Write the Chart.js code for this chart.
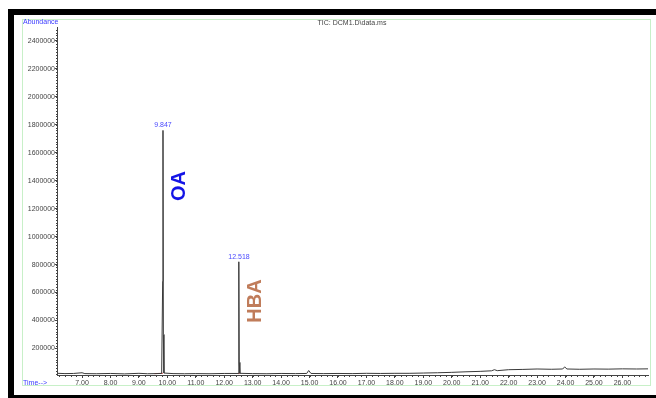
<!DOCTYPE html>
<html>
<head>
  <script src="https://cdn.jsdelivr.net/npm/chart.js"></script>
  <style>
    body { margin: 0; background: #fff; }
    canvas { display: block; }
  </style>
</head>
<body>
  <canvas id="ticCanvas" width="656" height="398"></canvas>

  <script>
    // retention time (min) and abundance
    var times = [6.15, 6.4, 6.7, 7.0, 7.1, 7.5, 8.0, 8.5, 9.0, 9.3, 9.6, 9.8, 9.835, 9.847, 9.86, 9.88,
      10.2, 10.6, 11.0, 11.5, 12.0, 12.49, 12.508, 12.518, 12.528, 12.55, 13.0, 13.5, 14.0, 14.5,
      14.9, 14.97, 15.05, 15.5, 16.0, 16.5, 17.0, 17.5, 18.0, 18.5, 19.0, 19.5, 20.0, 20.5, 21.0,
      21.4, 21.5, 21.6, 22.0, 22.5, 23.0, 23.5, 23.9, 23.97, 24.05, 24.5, 25.0, 25.5, 26.0, 26.5, 26.9];
    var abundance = [22000, 20000, 21000, 26000, 20000, 19000, 21000, 18000, 22000, 19000, 20000, 21000, 680000, 1760000, 300000, 24000,
      20000, 19000, 20000, 19000, 21000, 21000, 120000, 820000, 100000, 22000, 20000, 19000, 21000, 20000,
      21000, 42000, 21000, 20000, 21000, 20000, 22000, 21000, 22000, 22000, 24000, 26000, 29000, 33000, 36000,
      40000, 48000, 41000, 48000, 50000, 53000, 51000, 53000, 68000, 53000, 51000, 53000, 52000, 54000, 53000, 54000];

    // small red integration marks under the two peaks
    var intTimes = [9.55, 9.84, null, 12.49, 12.54];
    var intValues = [20000, 22000, null, 20000, 20000];

    var peakTimes = [9.847, 12.518];
    var peakValues = [1760000, 820000];
    var peakLabels = ['9.847', '12.518'];

    var xTicks = [7, 8, 9, 10, 11, 12, 13, 14, 15, 16, 17, 18, 19, 20, 21, 22, 23, 24, 25, 26];
    var yTicks = [200000, 400000, 600000, 800000, 1000000, 1200000, 1400000, 1600000, 1800000, 2000000, 2200000, 2400000];

    var FONT = 'Liberation Sans, Arial, sans-serif';

    var points = times.map(function (t, i) { return { x: t, y: abundance[i] }; });
    var intPoints = intTimes.map(function (t, i) { return t === null ? { x: null, y: null } : { x: t, y: intValues[i] }; });

    var decor = {
      id: 'decor',
      beforeDraw: function (chart) {
        var c = chart.ctx;
        c.save();
        c.fillStyle = '#fff';
        c.fillRect(0, 0, chart.width, chart.height);
        // black frame pieces
        c.fillStyle = '#000';
        c.fillRect(8, 9, 648, 6);
        c.fillRect(8, 9, 6, 389);
        c.fillRect(8, 395, 648, 3);
        // light green border
        c.strokeStyle = '#c8f0c8';
        c.lineWidth = 1;
        c.strokeRect(22.5, 19.5, 628, 366);
        c.restore();
      },
      afterDraw: function (chart) {
        var c = chart.ctx;
        var xs = chart.scales.x, ys = chart.scales.y;
        var area = chart.chartArea;
        c.save();
        // minor ticks
        c.strokeStyle = '#444';
        c.lineWidth = 1;
        c.beginPath();
        for (var t = 6.2; t < 26.95; t += 0.2) {
          var px = Math.round(xs.getPixelForValue(t)) + 0.5;
          c.moveTo(px, area.bottom);
          c.lineTo(px, area.bottom + 2);
        }
        for (var v = 20000; v < 2500000; v += 20000) {
          var py = Math.round(ys.getPixelForValue(v)) + 0.5;
          c.moveTo(area.left - 1, py);
          c.lineTo(area.left, py);
        }
        c.stroke();

        c.font = '7px ' + FONT;
        c.textBaseline = 'middle';
        c.fillStyle = '#3a3aff';
        c.textAlign = 'left';
        c.fillText('Abundance', 23, 22);
        c.fillText('Time-->', 23, 383);
        c.fillStyle = '#444';
        c.textAlign = 'center';
        c.fillText('TIC: DCM1.D\\data.ms', 352, 23);

        // peak retention time labels
        c.fillStyle = '#4a4aff';
        for (var i = 0; i < peakTimes.length; i++) {
          c.fillText(peakLabels[i], xs.getPixelForValue(peakTimes[i]), ys.getPixelForValue(peakValues[i]) - 5);
        }

        // compound names, rotated
        c.font = 'bold 20px ' + FONT;
        c.translate(178, 186);
        c.rotate(-Math.PI / 2);
        c.fillStyle = '#1414e6';
        c.fillText('OA', 0, 1);
        c.rotate(Math.PI / 2);
        c.translate(254 - 178, 301 - 186);
        c.rotate(-Math.PI / 2);
        c.fillStyle = '#c07c5a';
        c.fillText('HBA', 0, 1);
        c.restore();
      }
    };

    new Chart(document.getElementById('ticCanvas'), {
      type: 'line',
      data: {
        datasets: [{
          data: points,
          borderColor: '#3a3a3a',
          borderWidth: 1,
          pointRadius: 0,
          tension: 0
        }, {
          data: intPoints,
          borderColor: '#e03030',
          borderWidth: 1,
          pointRadius: 0,
          spanGaps: false
        }]
      },
      options: {
        responsive: false,
        animation: false,
        layout: { padding: { top: 27, right: 8, left: 0, bottom: 0 } },
        plugins: { legend: { display: false }, tooltip: { enabled: false } },
        scales: {
          x: {
            type: 'linear',
            min: 6.12,
            max: 26.9,
            afterBuildTicks: function (s) { s.ticks = xTicks.map(function (v) { return { value: v }; }); },
            afterFit: function (s) { s.height = 23; },
            grid: { display: true, drawOnChartArea: false, drawTicks: true, tickLength: 3, color: '#444' },
            border: { display: true, color: '#444' },
            ticks: {
              padding: 1, maxRotation: 0, autoSkip: false, color: '#444',
              font: { family: FONT, size: 7 },
              callback: function (v) { return v.toFixed(2); }
            }
          },
          y: {
            min: 10000,
            max: 2500000,
            afterBuildTicks: function (s) { s.ticks = yTicks.map(function (v) { return { value: v }; }); },
            afterFit: function (s) { s.width = 57; },
            grid: { display: true, drawOnChartArea: false, drawTicks: true, tickLength: 2, color: '#444' },
            border: { display: true, color: '#444' },
            ticks: {
              padding: 0, color: '#444',
              font: { family: FONT, size: 7 },
              callback: function (v) { return String(v); }
            }
          }
        }
      },
      plugins: [decor]
    });
  </script>
</body>
</html>
